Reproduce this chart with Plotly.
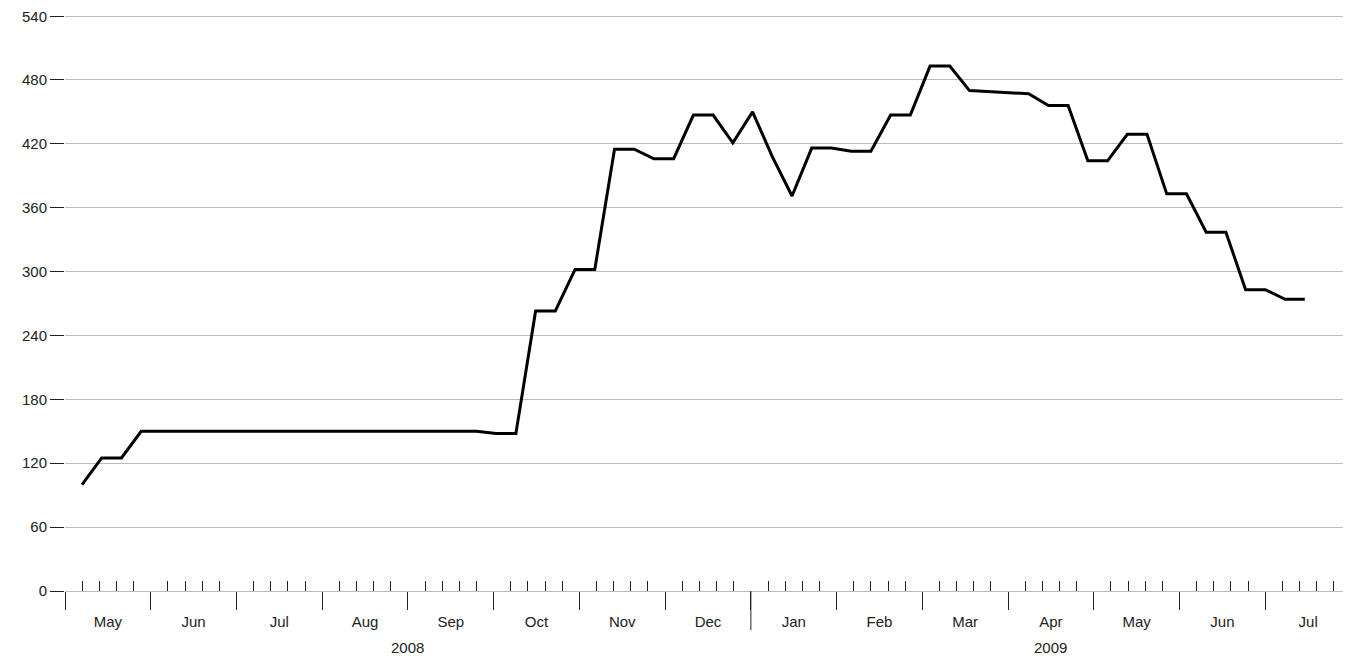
import plotly.graph_objects as go

# weekly observations, index 0 = last week of April 2008
values = [100, 125, 125] + [150] * 18 + [148, 148,
          263, 263, 302, 302, 415, 415, 406, 406, 447, 447, 421, 450, 408, 371,
          416, 416, 413, 413, 447, 447, 493, 493, 470, 469, 468, 467, 456, 456,
          404, 404, 429, 429, 373, 373, 337, 337, 283, 283, 274, 274]
weeks = list(range(len(values)))
months = ["May", "Jun", "Jul", "Aug", "Sep", "Oct", "Nov", "Dec",
          "Jan", "Feb", "Mar", "Apr", "May", "Jun", "Jul"]
years = ["2008", "2009"]
y_ticks = list(range(0, 541, 60))

# axis geometry in week units (one month ~ 4.35 weeks)
M = 4.347
x0 = -0.862
bounds = [x0 + k * M for k in range(len(months) + 1)]
centers = [x0 + (k + 0.5) * M for k in range(len(months))]
minor = [x0 + k * M / 5 for k in range(len(months) * 5 + 1) if k % 5]

fig = go.Figure()
fig.add_trace(go.Scatter(x=weeks, y=values, mode="lines",
                         line=dict(color="black", width=3), showlegend=False))
fig.add_trace(go.Scatter(x=[centers[0]], y=[0], xaxis="x2", mode="markers",
                         marker=dict(opacity=0), showlegend=False, hoverinfo="skip"))

font = dict(family="Liberation Sans, Arial", size=15, color="#222")
fig.update_layout(
    width=1351, height=662, plot_bgcolor="white", paper_bgcolor="white",
    margin=dict(l=57, r=8, t=7, b=79), font=font,
    xaxis=dict(range=[x0, bounds[-1]], tickmode="array", tickvals=bounds,
               ticks="outside", ticklen=18, tickcolor="#222", tickwidth=1,
               showticklabels=False, showgrid=False, zeroline=False,
               showline=True, linecolor="#bbb", automargin=False,
               minor=dict(tickmode="array", tickvals=minor, ticks="inside",
                          ticklen=10, tickcolor="#222", showgrid=False)),
    xaxis2=dict(range=[x0, bounds[-1]], overlaying="x", anchor="y", side="bottom",
                tickmode="array", tickvals=centers, ticktext=months, ticks="",
                showgrid=False, zeroline=False, showline=False,
                ticklabelstandoff=20, automargin=False),
    yaxis=dict(range=[0, 541], tickvals=y_ticks, ticks="outside", ticklen=14,
               tickcolor="#222", showgrid=True, gridcolor="#bbb", gridwidth=1,
               zeroline=False, showline=False, automargin=False),
)
# top tick label gets dropped at the page edge, so place it explicitly
fig.add_annotation(x=0, xref="paper", y=y_ticks[-1], yref="y", text=str(y_ticks[-1]),
                   showarrow=False, xanchor="right", xshift=-16, font=font)
# longer separator between years
fig.add_shape(type="line", xref="x", yref="paper", x0=bounds[8], x1=bounds[8],
              y0=0, y1=-0.068, line=dict(color="#222", width=1))
for yr, xc in zip(years, [(bounds[0] + bounds[8]) / 2, (bounds[8] + bounds[-1]) / 2]):
    fig.add_annotation(x=xc, xref="x", y=-0.098, yref="paper", text=yr,
                       showarrow=False, yanchor="middle", font=font)
fig.write_html("out.html")
